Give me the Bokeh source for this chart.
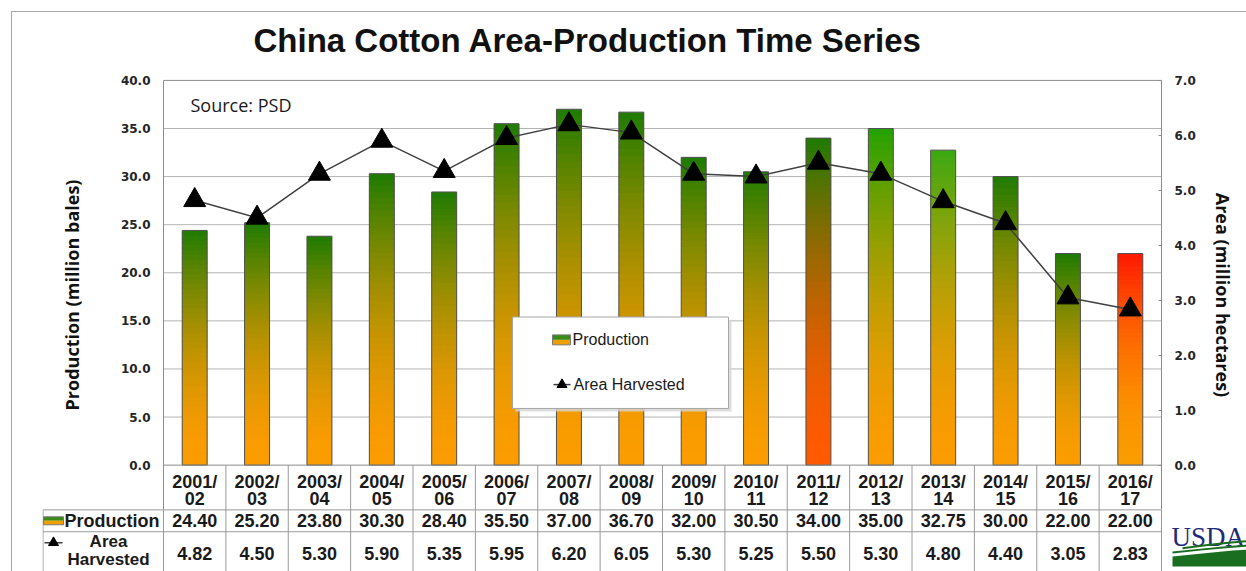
from bokeh.plotting import figure
from bokeh.models import Range1d, LinearAxis, FixedTicker, NumeralTickFormatter, Title, ColumnDataSource
from bokeh.layouts import column
from bokeh.embed import file_html
from bokeh.resources import INLINE
from bokeh.core.properties import value

# ---------------- data ----------------
categories = ["2001/02", "2002/03", "2003/04", "2004/05", "2005/06", "2006/07", "2007/08", "2008/09",
              "2009/10", "2010/11", "2011/12", "2012/13", "2013/14", "2014/15", "2015/16", "2016/17"]
production = [24.40, 25.20, 23.80, 30.30, 28.40, 35.50, 37.00, 36.70,
              32.00, 30.50, 34.00, 35.00, 32.75, 30.00, 22.00, 22.00]
area_harvested = [4.82, 4.50, 5.30, 5.90, 5.35, 5.95, 6.20, 6.05,
                  5.30, 5.25, 5.50, 5.30, 4.80, 4.40, 3.05, 2.83]
prod_ticks = [0, 5, 10, 15, 20, 25, 30, 35, 40]
area_ticks = [0, 1, 2, 3, 4, 5, 6, 7]

# ---------------- styles ----------------
GREEN = "#1e7b00"
ORANGE = "#fb9c00"
bar_top_colors = [GREEN] * 10 + [GREEN, "#22a200", "#3aa812", GREEN, GREEN, "#ff1800"]
bar_bottom_colors = [ORANGE] * 10 + ["#ff5a00", ORANGE, ORANGE, ORANGE, ORANGE, ORANGE]
FONT = "Liberation Sans"
TXT = "#1a1a1a"
LINE = "#9a9a9a"
FRAME = "#8c8c8c"

# ---------------- layout helpers (page pixels -> data) ----------------
X_L = 163.0              # page x of the plot area's left edge
COLW = 998.0 / 16        # width of one category column
Y0 = 464.0               # page y of the value 0
PXU = 387.0 / 40         # px per million bales
AXU = 387.0 / 7          # px per million hectares
F_TOP = 62               # page y of the drawing frame's top


def tx(px):
    return -0.5 + (px - X_L) / COLW


def yv(py):
    return (Y0 - py) / PXU


def ya(py):
    return (Y0 - py) / AXU


def hex2rgb(h):
    h = h.lstrip("#")
    return tuple(int(h[k:k + 2], 16) for k in (0, 2, 4))


def mix(c0, c1, t):
    a, b = hex2rgb(c0), hex2rgb(c1)
    return "#%02x%02x%02x" % tuple(int(round(a[k] + (b[k] - a[k]) * t)) for k in range(3))


idx = list(range(len(categories)))
XA, XB = -0.5, len(categories) - 0.5
T1, T2, T3 = 509, 531, 571      # table row edges (page y)

# ---------------- figure ----------------
p = figure(width=1234, height=559, x_range=Range1d(tx(42), tx(1246)), y_range=Range1d(yv(T3), yv(F_TOP)),
           output_backend="svg", toolbar_location=None, x_axis_location=None, y_axis_location=None,
           min_border_left=30, min_border_right=0, min_border_top=F_TOP - 12, min_border_bottom=0)
p.extra_y_ranges = {"area": Range1d(ya(T3), ya(F_TOP))}
p.outline_line_color = None
p.background_fill_color = "white"
p.border_fill_color = "white"
p.xgrid.visible = False
p.ygrid.visible = False

p.title = Title(text="China Cotton Area-Production Time Series", align="left", offset=211,
                text_font=FONT, text_font_size="33px", text_font_style="bold",
                text_color="#111111", standoff=14)

lax = LinearAxis(ticker=FixedTicker(ticks=prod_ticks), formatter=NumeralTickFormatter(format="0.0"),
                 axis_label="Production (million bales)", fixed_location=XA, bounds=(yv(T1), prod_ticks[-1]))
rax = LinearAxis(y_range_name="area", ticker=FixedTicker(ticks=area_ticks),
                 formatter=NumeralTickFormatter(format="0.0"), axis_label="Area (million hectares)",
                 fixed_location=XB, bounds=(ya(T1), area_ticks[-1]))
for ax in (lax, rax):
    ax.axis_line_color = FRAME
    ax.major_tick_line_color = FRAME
    ax.minor_tick_line_color = None
    ax.major_label_text_font = "DejaVu Sans"
    ax.major_label_text_font_style = "bold"
    ax.major_label_text_font_size = "12px"
    ax.major_label_text_color = "#262626"
    ax.major_label_standoff = 13
    ax.axis_label_text_font = "Open Sans"
    ax.axis_label_text_font_style = "bold"
    ax.axis_label_text_font_size = "18px"
    ax.axis_label_text_color = "#111111"
lax.major_tick_out = 0
lax.major_tick_in = 0
lax.axis_label_standoff = 34
rax.major_tick_out = 0
rax.major_tick_in = 3
rax.axis_label_standoff = 12
p.add_layout(lax, "left")
p.add_layout(rax, "right")

# plot-area gridlines and top edge
p.segment(x0=XA, x1=XB, y0=prod_ticks[1:-1], y1=prod_ticks[1:-1], line_color="#b4b4b4", line_width=1)
p.segment(x0=XA, x1=XB, y0=[prod_ticks[-1]], y1=[prod_ticks[-1]], line_color=FRAME, line_width=1)

# gradient bars: stacked slices from each bar's value
BW = 0.4
N = 48
sl = dict(left=[], right=[], bottom=[], top=[], color=[])
for i, v in zip(idx, production):
    for j in range(N):
        t = ((j + 0.5) / N) ** 1.8
        sl["left"].append(i - BW / 2)
        sl["right"].append(i + BW / 2)
        sl["bottom"].append(v * j / N)
        sl["top"].append(min(v, v * (j + 1.7) / N))
        sl["color"].append(mix(bar_bottom_colors[i], bar_top_colors[i], t))
p.quad(left="left", right="right", bottom="bottom", top="top", fill_color="color",
       line_color=None, source=ColumnDataSource(sl))
p.vbar(x=idx, top=production, width=BW, bottom=0, fill_color=None, line_color="#505050", line_width=1)

# area harvested line
p.line(x=idx, y=area_harvested, y_range_name="area", line_color="#404040", line_width=1.5)
p.scatter(x=idx, y=area_harvested, y_range_name="area", marker="triangle", size=22,
          fill_color="black", line_color="black")

# zero line / table grid
p.segment(x0=XA, x1=XB, y0=[0], y1=[0], line_color=FRAME, line_width=1)
inner_x = [k - 0.5 for k in idx[1:]]
p.segment(x0=inner_x, x1=inner_x, y0=yv(T3), y1=0, line_color=LINE, line_width=1)
p.segment(x0=[XA, XB, tx(42.5)], x1=[XA, XB, tx(42.5)], y0=yv(T3), y1=yv(T1), line_color=LINE, line_width=1)
p.segment(x0=tx(42.5), x1=XB, y0=[yv(T1), yv(T2)], y1=[yv(T1), yv(T2)], line_color=LINE, line_width=1)

# category header cells
cat_l1 = [c.split("/")[0] + "/" for c in categories]
cat_l2 = [c.split("/")[1] for c in categories]
for lines, py in ((cat_l1, 481), (cat_l2, 498)):
    p.text(x=idx, y=[yv(py)] * len(idx), text=lines, text_align="center", text_baseline="middle",
           text_font=value(FONT), text_font_style="bold", text_font_size="18px", text_color=TXT)

# table values
p.text(x=idx, y=[yv(520)] * len(idx), text=["%.2f" % v for v in production], text_align="center",
       text_baseline="middle", text_font=value(FONT), text_font_style="bold", text_font_size="18px",
       text_color=TXT)
p.text(x=idx, y=[yv(553)] * len(idx), text=["%.2f" % v for v in area_harvested], text_align="center",
       text_baseline="middle", text_font=value(FONT), text_font_style="bold", text_font_size="18px",
       text_color=TXT)

# table row labels with keys
p.quad(left=[tx(43)], right=[tx(63)], top=[yv(516)], bottom=[yv(520)], fill_color="#3a8a18", line_color=None)
p.quad(left=[tx(43)], right=[tx(63)], top=[yv(520)], bottom=[yv(524)], fill_color="#eea000", line_color=None)
p.quad(left=[tx(43)], right=[tx(63)], top=[yv(516)], bottom=[yv(524)], fill_color=None,
       line_color="#7a7a7a", line_width=1)
p.text(x=[tx(64)], y=[yv(520)], text=["Production"], text_align="left", text_baseline="middle",
       text_font=value(FONT), text_font_style="bold", text_font_size="18px", text_color=TXT)
p.segment(x0=[tx(44)], y0=[yv(542)], x1=[tx(62)], y1=[yv(542)], line_color="#404040", line_width=1.5)
p.scatter(x=[tx(53)], y=[yv(542)], marker="triangle", size=10, fill_color="black", line_color="black")
p.text(x=[tx(108), tx(108)], y=[yv(541), yv(559)], text=["Area", "Harvested"], text_align="center",
       text_baseline="middle", text_font=value(FONT), text_font_style="bold", text_font_size="17px",
       text_color=TXT)

# source note
p.text(x=[tx(190)], y=[yv(102)], text=["Source: PSD"], text_align="left", text_baseline="middle",
       text_font=value("Open Sans"), text_font_size="18px", text_color=TXT)

# legend box
p.quad(left=[tx(515)], right=[tx(731)], top=[yv(318)], bottom=[yv(410)], fill_color="#d4d4d4",
       line_color=None, fill_alpha=0.8)
p.quad(left=[tx(512)], right=[tx(728)], top=[yv(315)], bottom=[yv(407)], fill_color="white",
       line_color="#a6a6a6", line_width=1)
p.quad(left=[tx(552)], right=[tx(570)], top=[yv(333)], bottom=[yv(338)], fill_color="#3a8a18", line_color=None)
p.quad(left=[tx(552)], right=[tx(570)], top=[yv(338)], bottom=[yv(343)], fill_color="#eea000", line_color=None)
p.quad(left=[tx(552)], right=[tx(570)], top=[yv(333)], bottom=[yv(343)], fill_color=None,
       line_color="#7a7a7a", line_width=1)
p.text(x=[tx(572)], y=[yv(338)], text=["Production"], text_align="left", text_baseline="middle",
       text_font=value(FONT), text_font_size="16px", text_color=TXT)
p.segment(x0=[tx(553)], y0=[yv(383)], x1=[tx(570)], y1=[yv(383)], line_color="#404040", line_width=1.5)
p.scatter(x=[tx(561.5)], y=[yv(383)], marker="triangle", size=10, fill_color="black", line_color="black")
p.text(x=[tx(573)], y=[yv(383)], text=["Area Harvested"], text_align="left", text_baseline="middle",
       text_font=value(FONT), text_font_size="16px", text_color=TXT)

# USDA logo
p.text(x=[tx(1171)], y=[yv(536)], text=["USDA"], text_align="left", text_baseline="alphabetic",
       text_font=value("Liberation Serif"), text_font_size="27px", text_color="#1f2a78")
sw_x = [1172, 1172, 1192, 1212, 1232, 1246, 1246]
sw_y = [566, 556, 554, 552, 550, 549, 566]
p.patch(x=[tx(v) for v in sw_x], y=[yv(v) for v in sw_y], fill_color="#1a6e1f", line_color=None)
for xs, yy in (((1172, 1200, 1225, 1246), (552, 549, 546.5, 545)),
               ((1182, 1205, 1228, 1246), (547.5, 544.5, 542, 540.5))):
    p.line(x=[tx(v) for v in xs], y=[yv(v) for v in yy], line_color="#1a6e1f", line_width=2)

layout = column(p, styles={"border-left": "1px solid #a6a6a6", "border-top": "1px solid #a6a6a6",
                           "margin-left": "11px", "margin-top": "11px"})
open("out.html", "w").write(file_html(layout, INLINE))
